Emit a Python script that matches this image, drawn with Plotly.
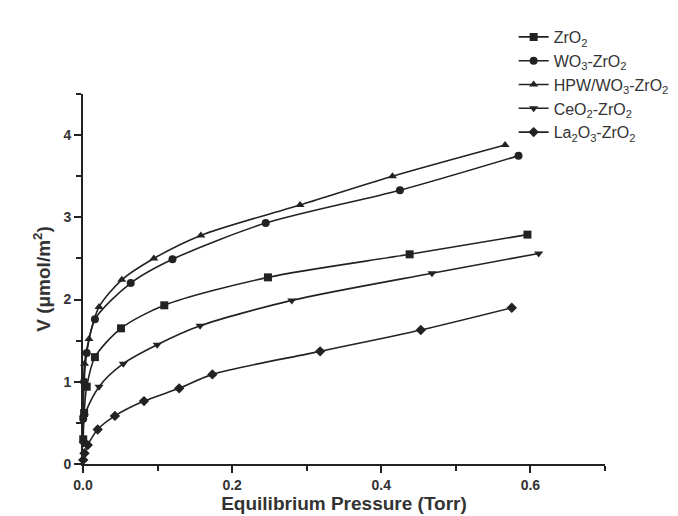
import plotly.graph_objects as go

# Equilibrium pressure (Torr) and adsorbed amount V (umol/m2) per sample
zro2_p = [0.0003, 0.0015, 0.005, 0.016, 0.051, 0.109, 0.248, 0.438, 0.596]
zro2_v = [0.30, 0.62, 0.94, 1.30, 1.65, 1.93, 2.27, 2.55, 2.79]

wo3_p = [0.0003, 0.0015, 0.005, 0.016, 0.064, 0.120, 0.245, 0.425, 0.584]
wo3_v = [0.55, 1.00, 1.35, 1.76, 2.20, 2.49, 2.93, 3.33, 3.75]

hpw_p = [0.0003, 0.002, 0.008, 0.0215, 0.052, 0.095, 0.158, 0.291, 0.415, 0.566]
hpw_v = [0.60, 1.22, 1.52, 1.91, 2.24, 2.50, 2.78, 3.15, 3.50, 3.88]

ceo2_p = [0.0003, 0.002, 0.0215, 0.054, 0.0995, 0.157, 0.280, 0.468, 0.611]
ceo2_v = [0.25, 0.58, 0.94, 1.22, 1.45, 1.68, 1.99, 2.32, 2.56]

la2o3_p = [0.0003, 0.002, 0.0064, 0.0197, 0.0428, 0.0818, 0.129, 0.1735, 0.318, 0.453, 0.575]
la2o3_v = [0.05, 0.13, 0.23, 0.42, 0.585, 0.765, 0.92, 1.09, 1.37, 1.63, 1.90]

series = [
    ("ZrO<sub>2</sub>", zro2_p, zro2_v, "square"),
    ("WO<sub>3</sub>-ZrO<sub>2</sub>", wo3_p, wo3_v, "circle"),
    ("HPW/WO<sub>3</sub>-ZrO<sub>2</sub>", hpw_p, hpw_v, "triangle-up"),
    ("CeO<sub>2</sub>-ZrO<sub>2</sub>", ceo2_p, ceo2_v, "triangle-down"),
    ("La<sub>2</sub>O<sub>3</sub>-ZrO<sub>2</sub>", la2o3_p, la2o3_v, "diamond"),
]

ink = "#222222"
txt = "#333333"
fig = go.Figure()
for name, p, v, sym in series:
    fig.add_trace(go.Scatter(
        x=p, y=v, name=name, mode="lines+markers",
        line=dict(color=ink, width=1.6, shape="spline", smoothing=0.8),
        marker=dict(symbol=sym, size=8, color=ink),
        cliponaxis=False,
    ))

fig.update_layout(
    width=678, height=516,
    paper_bgcolor="white", plot_bgcolor="white",
    margin=dict(l=75, r=77, t=66, b=60),
    font=dict(family="Liberation Sans, Arial", size=14, color=txt),
    legend=dict(x=0.825, y=1.2, xanchor="left", yanchor="top",
                font=dict(family="Liberation Sans, Arial", size=16, color=txt),
                bgcolor="rgba(0,0,0,0)", tracegroupgap=0, itemwidth=30),
)
fig.update_xaxes(
    range=[0, 0.7], showgrid=False, zeroline=False, automargin=False,
    showline=True, linecolor=ink, linewidth=2,
    ticks="outside", tickcolor=ink, ticklen=7, tickwidth=2,
    tick0=0, dtick=0.2, tickformat=".1f",
    minor=dict(dtick=0.1, ticks="outside", ticklen=5, tickcolor=ink, tickwidth=2),
    title=dict(text="<b>Equilibrium Pressure (Torr)</b>", font=dict(size=19, color=txt), standoff=0),
    tickfont=dict(size=14, color=txt, weight="bold"),
)
fig.update_yaxes(
    range=[0, 4.5], showgrid=False, zeroline=False, automargin=False,
    showline=True, linecolor=ink, linewidth=2,
    ticks="outside", tickcolor=ink, ticklen=7, tickwidth=2,
    tick0=0, dtick=1,
    minor=dict(dtick=0.5, ticks="outside", ticklen=5, tickcolor=ink, tickwidth=2),
    title=dict(text="<b>V (μmol/m<sup>2</sup>)</b>", font=dict(size=19, color=txt), standoff=8),
    tickfont=dict(size=14, color=txt, weight="bold"),
)

fig.write_html("out.html")
